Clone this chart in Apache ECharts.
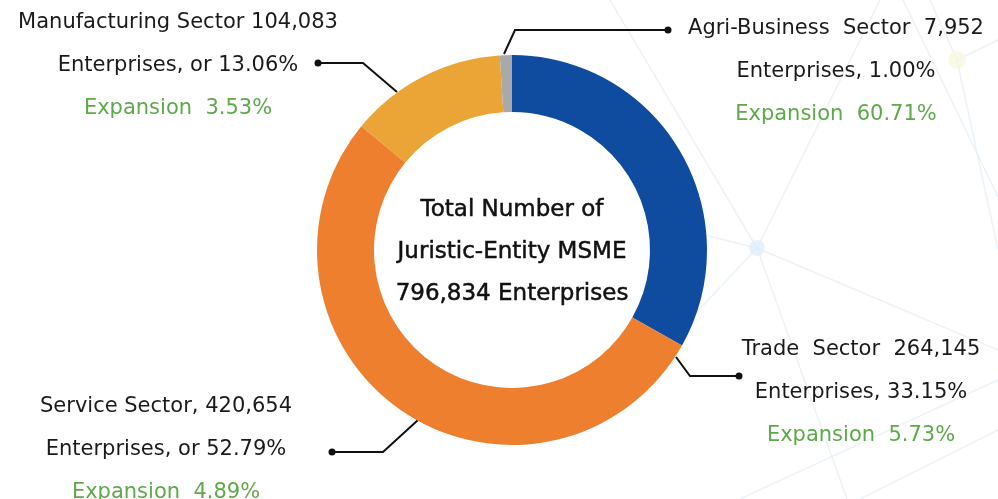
<!DOCTYPE html>
<html>
<head>
<meta charset="utf-8">
<script src="https://cdn.jsdelivr.net/npm/echarts@6/dist/echarts.min.js"></script>
<style>
  html, body { margin: 0; padding: 0; background: #ffffff; }
  #chart { width: 998px; height: 499px; }
</style>
</head>
<body>
<div id="chart"></div>
<script>
// Juristic-entity MSME enterprises by sector
const sectors = ['Trade Sector', 'Service Sector', 'Manufacturing Sector', 'Agri-Business Sector'];
const enterprises = [264145, 420654, 104083, 7952];
const shares = ['33.15%', '52.79%', '13.06%', '1.00%'];
const expansion = ['5.73%', '4.89%', '3.53%', '60.71%'];
const totalEnterprises = '796,834';

const colors = ['#0f4c9f', '#ee7f2e', '#eba537', '#a9a9a9'];

// Three-line label text for each sector
const fmt = n => n.toLocaleString('en-US');
const firstLines = [
  'Trade  Sector  ' + fmt(enterprises[0]),
  sectors[1] + ', ' + fmt(enterprises[1]),
  sectors[2] + ' ' + fmt(enterprises[2]),
  'Agri-Business  Sector  ' + fmt(enterprises[3])
];
const secondLines = [
  'Enterprises, ' + shares[0],
  'Enterprises, or ' + shares[1],
  'Enterprises, or ' + shares[2],
  'Enterprises, ' + shares[3]
];

// Label block placement (centre x, top y) and leader polylines
const labelPos = [
  { x: 861, y: 328 },
  { x: 166, y: 385 },
  { x: 178, y: 1 },
  { x: 836, y: 7 }
];
const leaders = [
  [[676, 357], [690, 376], [739, 376]],
  [[418, 420], [383, 452], [332, 452]],
  [[397, 92], [363, 63], [318, 63]],
  [[504, 54], [515, 30], [668, 30]]
];

const chart = echarts.init(document.getElementById('chart'));

// faint network pattern behind the chart
const bgLines = [
  [[610, 0], [757, 248]], [[757, 248], [998, 350]], [[757, 248], [700, 234]],
  [[757, 248], [847, 499]], [[757, 248], [680, 330]], [[757, 248], [880, 0]],
  [[903, 0], [998, 197]], [[957, 60], [998, 40]], [[957, 60], [930, 0]],
  [[957, 60], [998, 250]], [[740, 499], [998, 380]], [[860, 499], [998, 430]]
];

const graphics = [];
bgLines.forEach(l => {
  graphics.push({
    type: 'line', silent: true, z: -10,
    shape: { x1: l[0][0], y1: l[0][1], x2: l[1][0], y2: l[1][1] },
    style: { stroke: '#dde9f3', lineWidth: 1.5, opacity: 0.6 }
  });
});
graphics.push({
  type: 'circle', silent: true, z: -9,
  shape: { cx: 757, cy: 248, r: 8 },
  style: { fill: '#dcecfa', opacity: 0.7 }
});
graphics.push({
  type: 'circle', silent: true, z: -9,
  shape: { cx: 957, cy: 60, r: 9 },
  style: { fill: '#f7f7dc', opacity: 0.7 }
});
leaders.forEach(pts => {
  const end = pts[pts.length - 1];
  graphics.push({
    type: 'circle', z: 10,
    shape: { cx: end[0], cy: end[1], r: 3.5 },
    style: { fill: '#111111' }
  });
});
graphics.push({
  type: 'text', z: 10,
  style: {
    x: 512, y: 252,
    text: 'Total Number of\nJuristic-Entity MSME\n' + totalEnterprises + ' Enterprises',
    fill: '#111111',
    stroke: '#111111',
    lineWidth: 0.5,
    font: '23px "DejaVu Sans"',
    lineHeight: 42,
    align: 'center',
    verticalAlign: 'middle'
  }
});

chart.setOption({
  backgroundColor: '#ffffff',
  animation: false,
  color: colors,
  graphic: graphics,
  series: [{
    type: 'pie',
    center: [512, 250],
    radius: [138, 195],
    startAngle: 90,
    clockwise: true,
    avoidLabelOverlap: false,
    emphasis: { disabled: true },
    itemStyle: { borderWidth: 0 },
    label: {
      show: true,
      position: 'outside',
      formatter: p => '{a|' + firstLines[p.dataIndex] + '}\n{a|' + secondLines[p.dataIndex] + '}\n{g|Expansion  ' + expansion[p.dataIndex] + '}',
      rich: {
        a: { fontFamily: 'DejaVu Sans', fontSize: 21, color: '#1a1a1a', lineHeight: 43, align: 'center' },
        g: { fontFamily: 'DejaVu Sans', fontSize: 21, color: '#5ea94a', lineHeight: 43, align: 'center' }
      }
    },
    labelLine: {
      show: true,
      lineStyle: { color: '#111111', width: 2 }
    },
    labelLayout: p => ({
      x: labelPos[p.dataIndex].x,
      y: labelPos[p.dataIndex].y,
      align: 'center',
      verticalAlign: 'top',
      labelLinePoints: leaders[p.dataIndex]
    }),
    data: sectors.map((s, i) => ({ name: s, value: enterprises[i] }))
  }]
});
</script>
</body>
</html>
